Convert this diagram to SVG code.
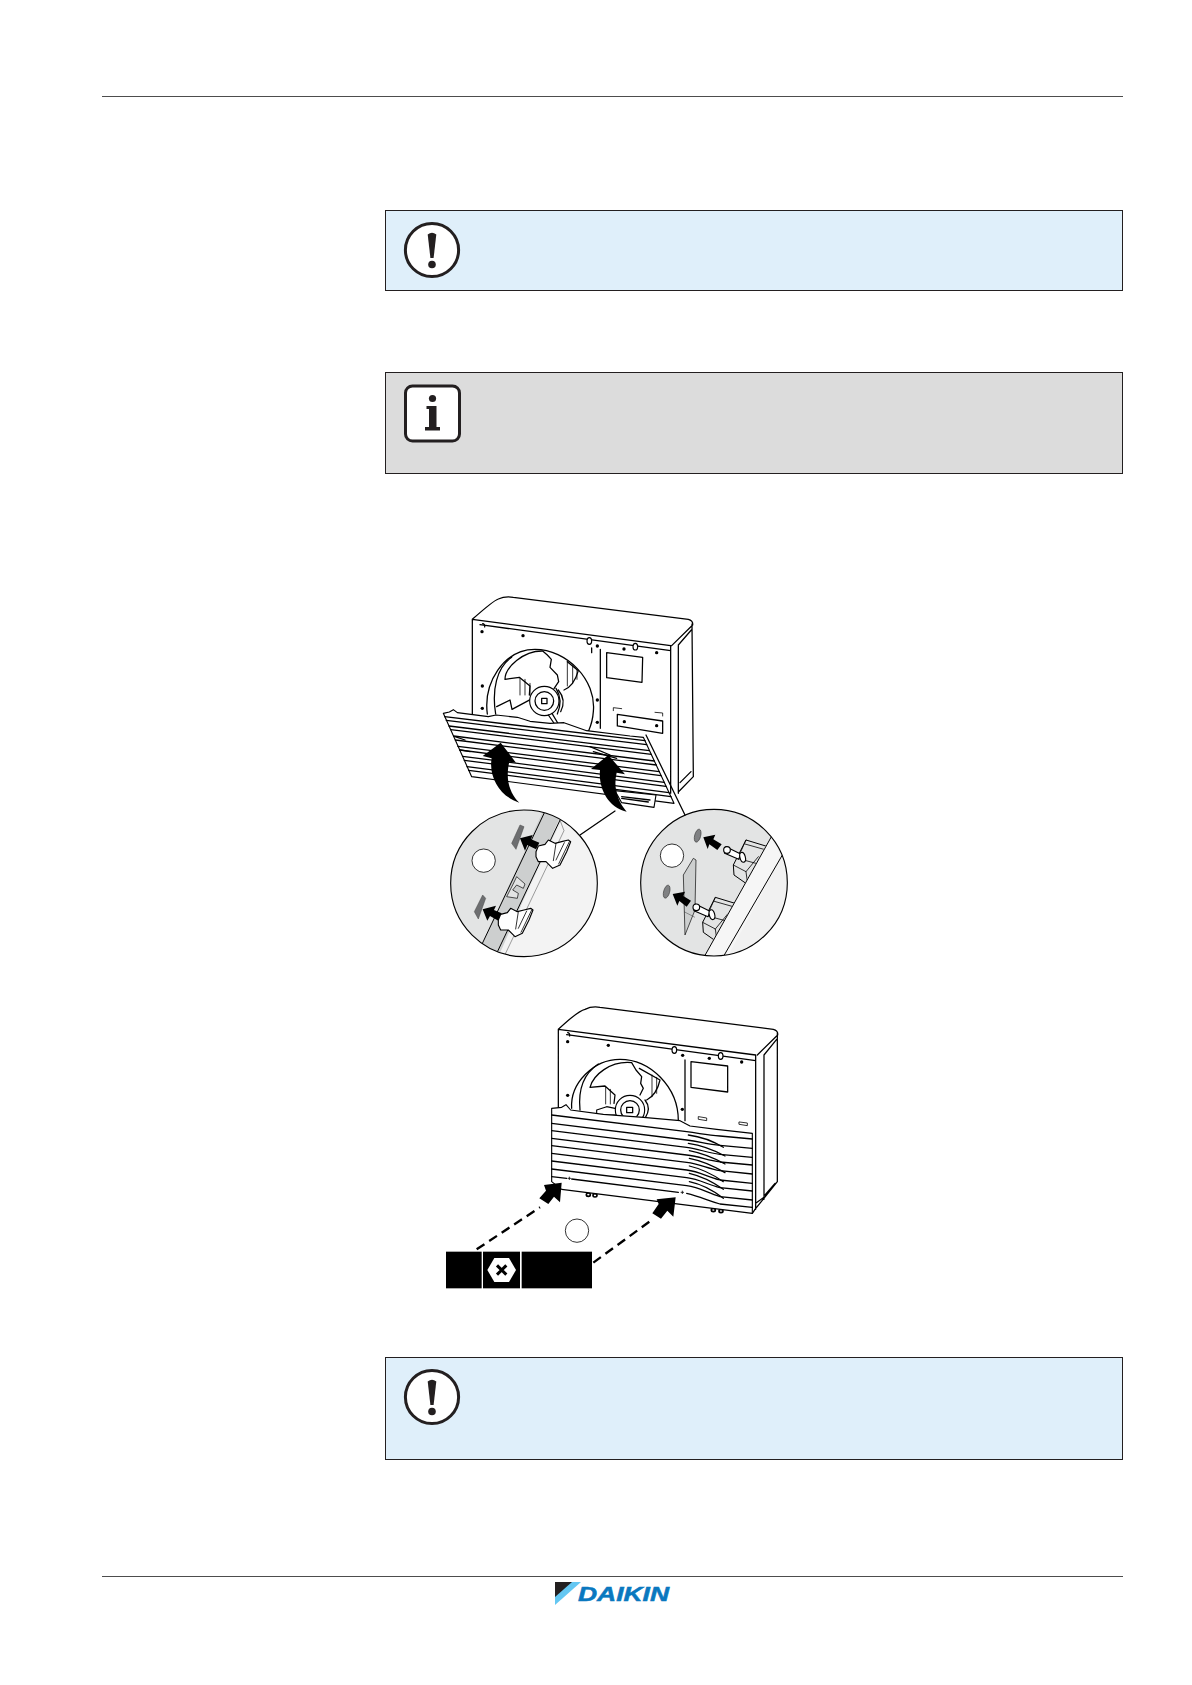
<svg xmlns="http://www.w3.org/2000/svg" width="1192" height="1685" viewBox="0 0 1192 1685">
<style>
.box{stroke:#231f20;stroke-width:1}
.blue{fill:#dfeffa}
.gray{fill:#dcdcdc}
.rule{stroke:#4d4d4d;stroke-width:1;fill:none}
.ln{fill:none;stroke:#000;stroke-width:3.8;stroke-linejoin:round;stroke-linecap:round}
.th{fill:none;stroke:#000;stroke-width:2.4;stroke-linecap:round;stroke-linejoin:round}
.thin{fill:none;stroke:#333;stroke-width:1.4}
.wf{fill:#fff;stroke:#000;stroke-width:3.4;stroke-linejoin:round}
.gf{fill:#e3e4e4;stroke:#000;stroke-width:3;stroke-linejoin:round}
.dot{fill:#000}
.blk{fill:#000}
.dash{fill:none;stroke:#000;stroke-width:7;stroke-dasharray:28 17}
.callout{fill:#fff;stroke:#000;stroke-width:2.4}
.hole{fill:#808183;stroke:#444;stroke-width:2}
.slot{fill:#6d6e70;stroke:#444;stroke-width:1.5}
</style>
<defs>
<g id="warn">
<circle cx="0" cy="0" r="26.6" fill="#fff" stroke="#231f20" stroke-width="3"/>
<path d="M-4.3 -15.5Q0 -19 4.3 -15.5L1.6 8H-1.6Z" fill="#231f20"/>
<circle cx="0" cy="14.5" r="3.8" fill="#231f20"/>
</g>
<clipPath id="cl"><circle cx="282" cy="280" r="220"/></clipPath>
<clipPath id="cr"><circle cx="852" cy="278" r="220"/></clipPath>
<g id="clip-part">
<path class="wf" d="M318 185L325 168L345 163L355 150L375 160L395 155L415 150L422 155L410 185L390 225L368 235L348 215L325 215L318 200Z"/>
<path class="th" d="M418 155L386 222M403 158L378 210M378 160L370 212"/>
</g>
<g id="bracket">
<path class="gf" d="M948 150L1030 175L962 290L912 255L910 225Z"/>
<path class="th" d="M945 162L1030 186M922 205L1000 226M910 225L948 245L952 275M948 245L985 200M930 190L948 150"/>
<path class="wf" d="M888 170L932 192L926 208L884 190Z"/>
<circle class="wf" cx="891" cy="180" r="10"/>
<ellipse class="wf" cx="938" cy="202" rx="8" ry="15" transform="rotate(-15 938 202)"/>
</g>
</defs>
<rect width="1192" height="1685" fill="#fff"/>
<g id="header"><path class="rule" d="M102 96.5H1123"/></g>
<g id="note-1">
<rect class="box blue" x="385.5" y="210.5" width="737" height="80"/>
<use href="#warn" x="432" y="250"/>
</g>
<g id="note-2">
<rect class="box gray" x="385.5" y="372.5" width="737" height="101"/>
<rect x="405.5" y="386" width="54" height="55" rx="7" fill="#fff" stroke="#231f20" stroke-width="3"/>
<circle cx="432.5" cy="398.5" r="3.6" fill="#231f20"/>
<path d="M426.5 406H436.5V427H440V430.5H425V427H429V409H426.5Z" fill="#231f20"/>
</g>

<g id="unit-top" transform="translate(430 580) scale(.33333)">
<path class="ln" d="M127 118Q190 62 205 57Q225 48 250 52L775 118Q790 122 788 135L725 197M127 118L722 197M150 134L722 212M127 118V405M722 197V640M745 197V640M786 132L790 590L745 636M784 150L745 195M783 575L750 608"/>
<g class="dot"><circle cx="156" cy="155" r="5"/><circle cx="279" cy="167" r="5"/><circle cx="502" cy="198" r="5"/><circle cx="582" cy="207" r="5"/><circle cx="680" cy="218" r="5"/><circle cx="157" cy="318" r="5"/><circle cx="157" cy="385" r="5"/><circle cx="502" cy="360" r="5"/><circle cx="502" cy="427" r="5"/></g>
<path class="ln" d="M158 131a6 8 0 0 1 6 10M485 204V218M511 208V445"/>
<ellipse class="wf" cx="478" cy="183" rx="7" ry="10"/><ellipse class="wf" cx="616" cy="200" rx="7" ry="10"/>
<path class="ln" d="M530 218L638 232L636 307L530 293Z"/>
<path class="th" d="M550 392V383L575 386M675 397L698 399V408"/>
<path class="ln" d="M562 403L698 423V460L562 438Z"/>
<circle class="dot" cx="583" cy="425" r="5"/><circle class="dot" cx="680" cy="437" r="5"/>
<path class="ln" d="M172 402C160 310 220 208 315 208C410 208 500 300 490 395Q488 425 476 452"/>
<path class="ln" d="M197 402C185 330 200 262 245 232"/>
<path class="ln" d="M225 298C225 262 280 212 338 213L352 225L364 238L360 262L382 285L386 305L372 326M225 298L268 292L300 318L298 345M200 380L240 360L246 388L302 358M412 245L445 272Q432 318 402 330"/>
<path class="th" d="M270 295V345M285 298V345M300 310V345M412 245V318M428 258V310M441 270V298"/>
<circle class="wf" cx="343" cy="363" r="44"/><circle class="ln" cx="343" cy="363" r="28"/>
<path class="ln" d="M335 355H351V371H335Z"/><path class="ln" d="M385 330Q410 360 392 395M378 325Q400 360 382 402"/>
<path class="ln" d="M355 405L378 438M366 400L385 432"/>
<path class="wf" d="M40 400L58 396L70 389L82 398L175 410L198 405L262 412L300 424L360 430L402 428L470 452L600 468L640 472L732 670L125 590Z"/>
<path class="ln" d="M44 410L645 482M49 421L650 494M57 438L658 512M62 449L664 523M71 468L673 543M76 480L679 555M84 499L688 575M89 510L693 587M98 529L703 607M103 541L708 619M111 560L717 638M116 571L723 650"/>
<path class="ln" d="M480 500L540 525M490 515L560 535M75 470L105 480M90 510L120 515"/>
<path class="wf" d="M555 632L678 645L672 682L575 668Z"/>
<path class="ln" d="M575 650L660 660M575 655L655 666"/>
<path class="blk" d="M212 488L258 548L238 545C225 600 240 640 268 668C210 650 175 590 185 535L158 528Z"/>
<path class="blk" d="M535 525L585 583L560 578C550 620 560 660 590 695C530 680 505 620 510 570L483 567Z"/>
</g>

<g id="detail-left" transform="translate(430 790) scale(.33333)">
<g clip-path="url(#cl)">
<rect x="40" y="40" width="480" height="480" fill="#e3e4e4"/>
<path d="M395 90L560 90V520L190 520Z" fill="#f3f3f3"/>
<path d="M345 50L395 70L205 500L148 480Z" fill="#cdcfcf"/>
<path class="ln" d="M347 60L150 475M395 80L200 490" style="stroke-width:3"/>
<path class="thin" d="M390 90L402 122L222 500"/>
</g>
<path class="slot" d="M270 105L282 110L258 178L245 160Z"/><path class="slot" d="M158 315L167 325L145 387L133 365Z"/>
<path class="gf" d="M248 285L260 260L285 282L280 295L260 285L248 300L265 310L262 325L230 320Z" style="stroke-width:2"/>
<path class="blk" d="M270 145L308 135L303 148L328 158L318 178L292 165L285 182Z"/>
<path class="blk" d="M158 358L198 347L192 360L215 370L205 392L180 378L172 392Z"/>
<use href="#clip-part"/>
<use href="#clip-part" transform="translate(-113 205)"/>
<circle cx="282" cy="280" r="220" fill="none" stroke="#000" stroke-width="3.4"/>
<circle class="callout" cx="161" cy="212" r="35"/>
</g>

<g id="detail-right" transform="translate(430 790) scale(.33333)">
<g clip-path="url(#cr)">
<rect x="620" y="50" width="480" height="480" fill="#e3e4e4"/>
</g>
<path d="M790 205L798 210L795 360L765 435L760 255Z" fill="#cdcfcf" stroke="#000" stroke-width="2"/>
<path class="thin" d="M762 365L795 382"/>
<ellipse class="hole" cx="803" cy="137" rx="9" ry="20" transform="rotate(15 803 137)"/>
<ellipse class="hole" cx="710" cy="305" rx="9" ry="20" transform="rotate(15 710 305)"/>
<path class="blk" d="M820 142L856 134L850 148L875 163L862 180L838 163L833 177Z"/>
<path class="blk" d="M728 312L765 305L760 318L783 332L770 350L748 333L742 347Z"/>
<use href="#bracket"/>
<use href="#bracket" transform="translate(-92 172)"/>
<g clip-path="url(#cr)">
<path d="M1022 142L1200 60V530L822 500Z" fill="#f1f1f1"/>
<path d="M1022 142L1055 200L893 500L822 500Z" fill="#f6f6f6"/>
<path class="ln" d="M1027 135L820 505M1060 190L880 500" style="stroke-width:3"/>
</g>
<circle cx="852" cy="278" r="220" fill="none" stroke="#000" stroke-width="3.4"/>
<circle class="callout" cx="726" cy="197" r="35"/>
</g>

<g id="unit-front" transform="translate(430 1000) scale(.33333)">
<path class="ln" d="M385 88Q445 32 465 28Q485 18 510 22L1030 88Q1045 92 1043 105L982 165M385 88L977 165M410 104L977 182M385 88V330M977 165V628M1002 165V598M1042 100V545L975 628L967 640M1040 118L1002 165M1035 550L1005 585M977 610L1002 592"/>
<g class="dot"><circle cx="413" cy="125" r="5"/><circle cx="535" cy="136" r="5"/><circle cx="758" cy="166" r="5"/><circle cx="838" cy="175" r="5"/><circle cx="935" cy="186" r="5"/><circle cx="413" cy="286" r="5"/><circle cx="757" cy="328" r="5"/></g>
<path class="ln" d="M413 98a6 8 0 0 1 6 10M765 180V362"/>
<ellipse class="wf" cx="733" cy="150" rx="7" ry="10"/><ellipse class="wf" cx="872" cy="168" rx="7" ry="10"/>
<path class="ln" d="M783 185L893 198V276L783 262Z"/>
<path class="th" d="M806 350L830 354V362L806 358ZM928 366L952 369V377L928 373Z"/>
<path class="ln" d="M425 325C420 250 490 178 570 178C660 178 745 260 745 362"/>
<path class="ln" d="M450 330C445 280 455 225 505 192"/>
<path class="ln" d="M480 262C490 225 540 182 605 188L618 210L635 230L632 250L640 265L630 285M480 262L525 258L555 285L552 310M628 205L690 240Q680 285 650 300"/>
<path class="th" d="M527 262V312M541 268V312M666 225V290M680 232V280"/>
<path class="wf" d="M500 330L530 320L555 325L575 338L640 345L500 345Z"/>
<circle class="wf" cx="600" cy="330" r="44"/><circle class="ln" cx="600" cy="330" r="28"/>
<path class="ln" d="M590 322H608V338H590Z"/><path class="ln" d="M645 300Q665 325 645 355"/>
<g class="wf" style="stroke-width:5"><ellipse cx="475" cy="584" rx="6" ry="5"/><ellipse cx="495" cy="586" rx="6" ry="5"/><ellipse cx="850" cy="630" rx="6" ry="5"/><ellipse cx="873" cy="633" rx="6" ry="5"/></g>
<path class="wf" d="M365 325L395 322L408 314L422 330L520 343L640 352L750 362L780 378L860 388L967 400V640L395 568L365 545Z"/>
<path class="ln" d="M365 345L770 395C810 400 830 405 870 408L967 417M365 370L770 420C810 425 830 432 870 436L967 445M365 392L770 442C810 448 830 458 870 463L967 472M365 415L770 465C810 470 830 480 870 486L967 495M365 437L770 487C810 492 830 505 870 512L967 522M365 460L770 510C810 515 830 530 870 540L967 550M365 483L770 533C810 538 830 553 870 563L967 573M365 507L770 557C810 562 830 578 870 590L967 600M365 530L410 535M425 537L745 577M770 580C810 590 830 600 870 612L967 622"/>
<path class="ln" d="M775 405Q830 412 880 442M775 430Q830 438 885 468M778 452Q830 462 885 492M778 475Q830 485 885 518M778 498Q830 510 880 545M778 520Q830 532 880 568M778 545Q830 556 880 595"/>
<path class="blk" d="M395 548L390 607L372 590L355 612L328 595L348 572L342 555Z"/>
<path class="blk" d="M737 592L730 650L712 632L693 656L667 640L686 612L680 598Z"/>
<path d="M413 535H423M418 530V540M752 577H762M757 572V582" stroke="#000" stroke-width="2.4"/>
</g>
<g id="connectors">
<g transform="translate(430 1000) scale(.33333)"><path class="dash" d="M140 748L330 622M490 788L665 660"/></g>
<g transform="translate(430 790) scale(.33333)"><path class="ln" d="M555 63L450 135"/></g>
<g transform="translate(430 580) scale(.33333)"><path class="ln" d="M648 465L765 705"/></g>
</g>
<g id="callout-c" transform="translate(430 1000) scale(.33333)"><circle class="callout" cx="441" cy="692" r="35"/></g>
<g id="tool-bar" transform="translate(430 1000) scale(.33333)">
<rect class="blk" x="48" y="755" width="107" height="110"/><rect class="blk" x="159" y="755" width="111" height="110"/><rect class="blk" x="275" y="755" width="211" height="110"/>
<path fill="#fff" d="M172 810L193 774H237L258 810L237 846H193Z"/>
<path d="M201 796L229 824M229 796L201 824" stroke="#000" stroke-width="9" fill="none"/>
</g>

<g id="note-3">
<rect class="box blue" x="385.5" y="1357.5" width="737" height="102"/>
<use href="#warn" x="432" y="1397"/>
</g>
<g id="footer">
<path class="rule" d="M102 1576.5H1123"/>
<path d="M555 1582V1605L581 1582Z" fill="#64c7f2"/><path d="M555 1582V1597L572 1582Z" fill="#231f20"/>
<text x="578" y="1601" font-family="'Liberation Sans',Arial,sans-serif" font-size="19.5" font-weight="700" font-style="italic" fill="#0a78bf" stroke="#0a78bf" stroke-width=".5" textLength="91" lengthAdjust="spacingAndGlyphs">DAIKIN</text>
</g>
</svg>
